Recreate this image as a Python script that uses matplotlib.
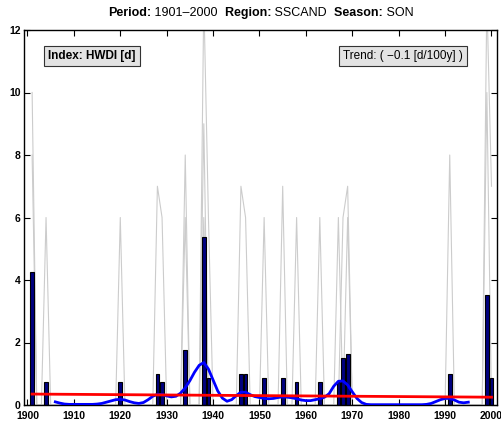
import numpy as np
import matplotlib
matplotlib.use('Agg')
import matplotlib.pyplot as plt

plt.rcParams['font.family'] = ['Liberation Sans', 'DejaVu Sans']

# regional mean (bars)
bar_years = [1901, 1904, 1920, 1928, 1929, 1934, 1938, 1939, 1946, 1947,
             1951, 1955, 1958, 1963, 1967, 1968, 1969, 1991, 1999, 2000]
bar_values = [4.27, 0.75, 0.75, 1.0, 0.75, 1.75, 5.39, 0.85, 1.0, 1.0,
              0.85, 0.88, 0.75, 0.75, 0.75, 1.5, 1.62, 1.0, 3.52, 0.88]

# single series (gray lines), only non-zero years listed
years = np.arange(1901, 2001)
gray_a_years = [1901, 1904, 1920, 1928, 1929, 1934, 1938, 1939, 1946, 1947,
                1951, 1955, 1958, 1963, 1968, 1969, 1991, 1999, 2000]
gray_a_values = [10, 6, 6, 7, 6, 8, 13, 6, 7, 6,
                 6, 7, 6, 6, 6, 7, 8, 13, 7]
gray_b_years = [1901, 1934, 1938, 1967, 1999]
gray_b_values = [8, 6, 9, 6, 10]
gray_c_years = [1938, 1969]
gray_c_values = [6, 6]

# smoothed curve (blue)
smooth_years = list(range(1906, 1996))
smooth_values = [0.10, 0.06, 0.03, 0.02, 0.02, 0.02, 0.02, 0.02, 0.02, 0.03,
                 0.05, 0.09, 0.13, 0.17, 0.18, 0.16, 0.11, 0.07, 0.05, 0.08,
                 0.17, 0.28, 0.34, 0.34, 0.29, 0.26, 0.28, 0.38, 0.55, 0.78,
                 1.05, 1.27, 1.36, 1.15, 0.80, 0.45, 0.22, 0.12, 0.17, 0.30,
                 0.41, 0.41, 0.33, 0.27, 0.24, 0.21, 0.20, 0.21, 0.24, 0.26,
                 0.25, 0.23, 0.20, 0.16, 0.14, 0.14, 0.17, 0.20, 0.25, 0.36,
                 0.60, 0.76, 0.77, 0.64, 0.42, 0.21, 0.08, 0.02, 0.01, 0.01,
                 0.01, 0.01, 0.01, 0.01, 0.01, 0.01, 0.01, 0.01, 0.01, 0.01,
                 0.02, 0.05, 0.11, 0.17, 0.21, 0.21, 0.16, 0.09, 0.07, 0.09]

# linear trend (red)
trend_years = [1901, 2000]
trend_values = [0.35, 0.25]

title_parts = [("Period:", True), (" 1901\u20132000", False),
               ("  Region:", True), (" SSCAND", False),
               ("  Season:", True), (" SON", False)]

W, H = 502, 425
fig = plt.figure(figsize=(W / 100, H / 100), dpi=100)
ax = fig.add_axes([24 / W, 20 / H, 473.3 / W, 375 / H])


def full_series(yrs, vals):
    s = np.zeros(len(years))
    for y, v in zip(yrs, vals):
        s[y - years[0]] = v
    return s


for yrs, vals in [(gray_a_years, gray_a_values), (gray_b_years, gray_b_values),
                  (gray_c_years, gray_c_values)]:
    ax.plot(years, full_series(yrs, vals), color='#cccccc', lw=0.8, zorder=1)

ax.bar(bar_years, bar_values, width=0.8, color='#000080', edgecolor='black',
       linewidth=0.8, zorder=2)
ax.plot(smooth_years, smooth_values, color='#0000ff', lw=2, zorder=3)
ax.plot(trend_years, trend_values, color='#ff0000', lw=2, zorder=4)

ax.set_xlim(1899.25, 2001.25)
ax.set_ylim(0, 12)
ax.set_xticks(range(1900, 2001, 10))
ax.set_yticks(range(0, 13, 2))
ax.tick_params(direction='in', top=True, right=True, length=4, width=0.8,
               labelsize=7.5)
ax.tick_params(axis='x', pad=4.5)
ax.tick_params(axis='y', pad=2.5)
for lab in ax.get_xticklabels() + ax.get_yticklabels():
    lab.set_fontweight('bold')
for sp in ax.spines.values():
    sp.set_linewidth(1)

box = dict(boxstyle='square,pad=0.35', facecolor='#e3e3e3', edgecolor='#333333', lw=0.8)
ax.text(0.144, 0.931, "Index: HWDI [d]", transform=ax.transAxes, ha='center',
        va='center', fontsize=8.5, fontweight='bold', bbox=box, zorder=5)
ax.text(0.80, 0.931, "Trend: ( \u22120.1 [d/100y] )", transform=ax.transAxes,
        ha='center', va='center', fontsize=8.5, bbox=box, zorder=5)

# title made of bold and normal pieces, centred over the axes
renderer = fig.canvas.get_renderer()
pieces = []
for s, bold in title_parts:
    pieces.append(fig.text(0, 1 - 13 / H, s, fontsize=9, va='center', ha='left',
                           fontweight='bold' if bold else 'normal'))
widths = [t.get_window_extent(renderer).width for t in pieces]
x = (24 + 497.3) / 2 - sum(widths) / 2
for t, w in zip(pieces, widths):
    t.set_x(x / W)
    x += w

fig.savefig('out.png', dpi=100)
